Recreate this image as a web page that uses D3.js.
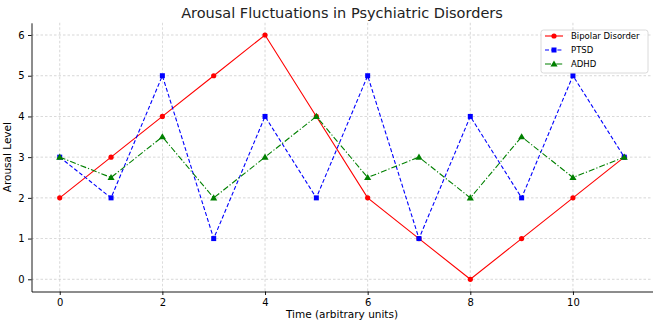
<!DOCTYPE html>
<html><head><meta charset="utf-8">
<script src="https://cdn.jsdelivr.net/npm/d3@7"></script>
<style>body{margin:0;background:#fff}svg{display:block;font-family:"DejaVu Sans",sans-serif}</style>
</head><body><svg id="c" width="660" height="327"></svg>
<script>
const timePoints = [0,1,2,3,4,5,6,7,8,9,10,11];
const bipolar = [2,3,4,5,6,4,2,1,0,1,2,3];
const ptsd = [3,2,5,1,4,2,5,1,4,2,5,3];
const adhd = [3,2.5,3.5,2,3,4,2.5,3,2,3.5,2.5,3];
const seriesNames = ["Bipolar Disorder","PTSD","ADHD"];
const xTicks = [0,2,4,6,8,10];
const yTicks = [0,1,2,3,4,5,6];

const svg = d3.select("#c");
const L=31.5, R=652.5, T=22.8, B=291.5;
const x = d3.scaleLinear().domain([-0.55,11.55]).range([L,R]);
const y = d3.scaleLinear().domain([-0.3,6.3]).range([B,T]);

// grid
const g = svg.append("g");
g.selectAll(".gx").data(xTicks).enter().append("line")
 .attr("x1",d=>x(d)).attr("x2",d=>x(d)).attr("y1",T).attr("y2",B)
 .attr("stroke","#b0b0b0").attr("stroke-width",0.7).attr("stroke-dasharray","2.5,2").attr("opacity",0.7);
g.selectAll(".gy").data(yTicks).enter().append("line")
 .attr("x1",L).attr("x2",R).attr("y1",d=>y(d)).attr("y2",d=>y(d))
 .attr("stroke","#b0b0b0").attr("stroke-width",0.7).attr("stroke-dasharray","2.5,2").attr("opacity",0.7);

// axes
const xa = svg.append("g").attr("transform",`translate(0,${B})`)
 .call(d3.axisBottom(x).tickValues(xTicks).tickFormat(d3.format("d")).tickSize(3.5).tickPadding(3.5).tickSizeOuter(0));
const ya = svg.append("g").attr("transform",`translate(${L},0)`)
 .call(d3.axisLeft(y).tickValues(yTicks).tickFormat(d3.format("d")).tickSize(3.5).tickPadding(3.5).tickSizeOuter(0));
[xa,ya].forEach(a=>{
 a.select(".domain").attr("stroke","#000").attr("stroke-width",0.9);
 a.selectAll(".tick line").attr("stroke","#000").attr("stroke-width",0.9);
 a.selectAll("text").attr("font-size",10).attr("fill","#000").attr("font-family","DejaVu Sans");
});

// series
const defs = [
 {name:seriesNames[0],data:bipolar,color:"#ff0000",dash:null,marker:"circle"},
 {name:seriesNames[1],data:ptsd,color:"#0000ff",dash:"4,2.2",marker:"square"},
 {name:seriesNames[2],data:adhd,color:"#008000",dash:"6,2,1.2,2",marker:"triangle"}
];
const line = d3.line().x((d,i)=>x(timePoints[i])).y(d=>y(d));
function marker(sel,type,color,cx,cy){
 if(type==="circle") sel.append("circle").attr("cx",cx).attr("cy",cy).attr("r",2.6).attr("fill",color);
 else if(type==="square") sel.append("rect").attr("x",cx-2.5).attr("y",cy-2.5).attr("width",5).attr("height",5).attr("fill",color);
 else sel.append("path").attr("d",d3.symbol(d3.symbolTriangle,22)()).attr("transform",`translate(${cx},${cy+0.5})`).attr("fill",color);
}
defs.forEach(s=>{
 const p = svg.append("path").datum(s.data).attr("d",line).attr("fill","none")
  .attr("stroke",s.color).attr("stroke-width",1.1);
 if(s.dash) p.attr("stroke-dasharray",s.dash);
 const mg = svg.append("g");
 s.data.forEach((v,i)=>marker(mg,s.marker,s.color,x(timePoints[i]),y(v)));
});

// title & labels
svg.append("text").attr("x",(L+R)/2).attr("y",18).attr("text-anchor","middle")
 .attr("font-size",14.5).attr("fill","#222").text("Arousal Fluctuations in Psychiatric Disorders");
svg.append("text").attr("x",(L+R)/2).attr("y",318).attr("text-anchor","middle")
 .attr("font-size",10.5).attr("fill","#000").text("Time (arbitrary units)");
svg.append("text").attr("transform",`translate(11,${(T+B)/2}) rotate(-90)`).attr("text-anchor","middle")
 .attr("font-size",10.5).attr("fill","#000").text("Arousal Level");

// legend
const lg = svg.append("g");
lg.append("rect").attr("x",541).attr("y",30).attr("width",107).attr("height",43).attr("rx",2.5)
 .attr("fill","#fff").attr("fill-opacity",0.8).attr("stroke","#d0d0d0").attr("stroke-width",0.8);
defs.forEach((s,i)=>{
 const yy = 36+i*14;
 const l = lg.append("line").attr("x1",545).attr("x2",563).attr("y1",yy).attr("y2",yy)
  .attr("stroke",s.color).attr("stroke-width",1.1);
 if(s.dash) l.attr("stroke-dasharray",s.dash);
 marker(lg,s.marker,s.color,554,yy);
 lg.append("text").attr("x",571).attr("y",yy+3.3).attr("font-size",8.5).attr("fill","#000").text(s.name);
});
</script></body></html>
